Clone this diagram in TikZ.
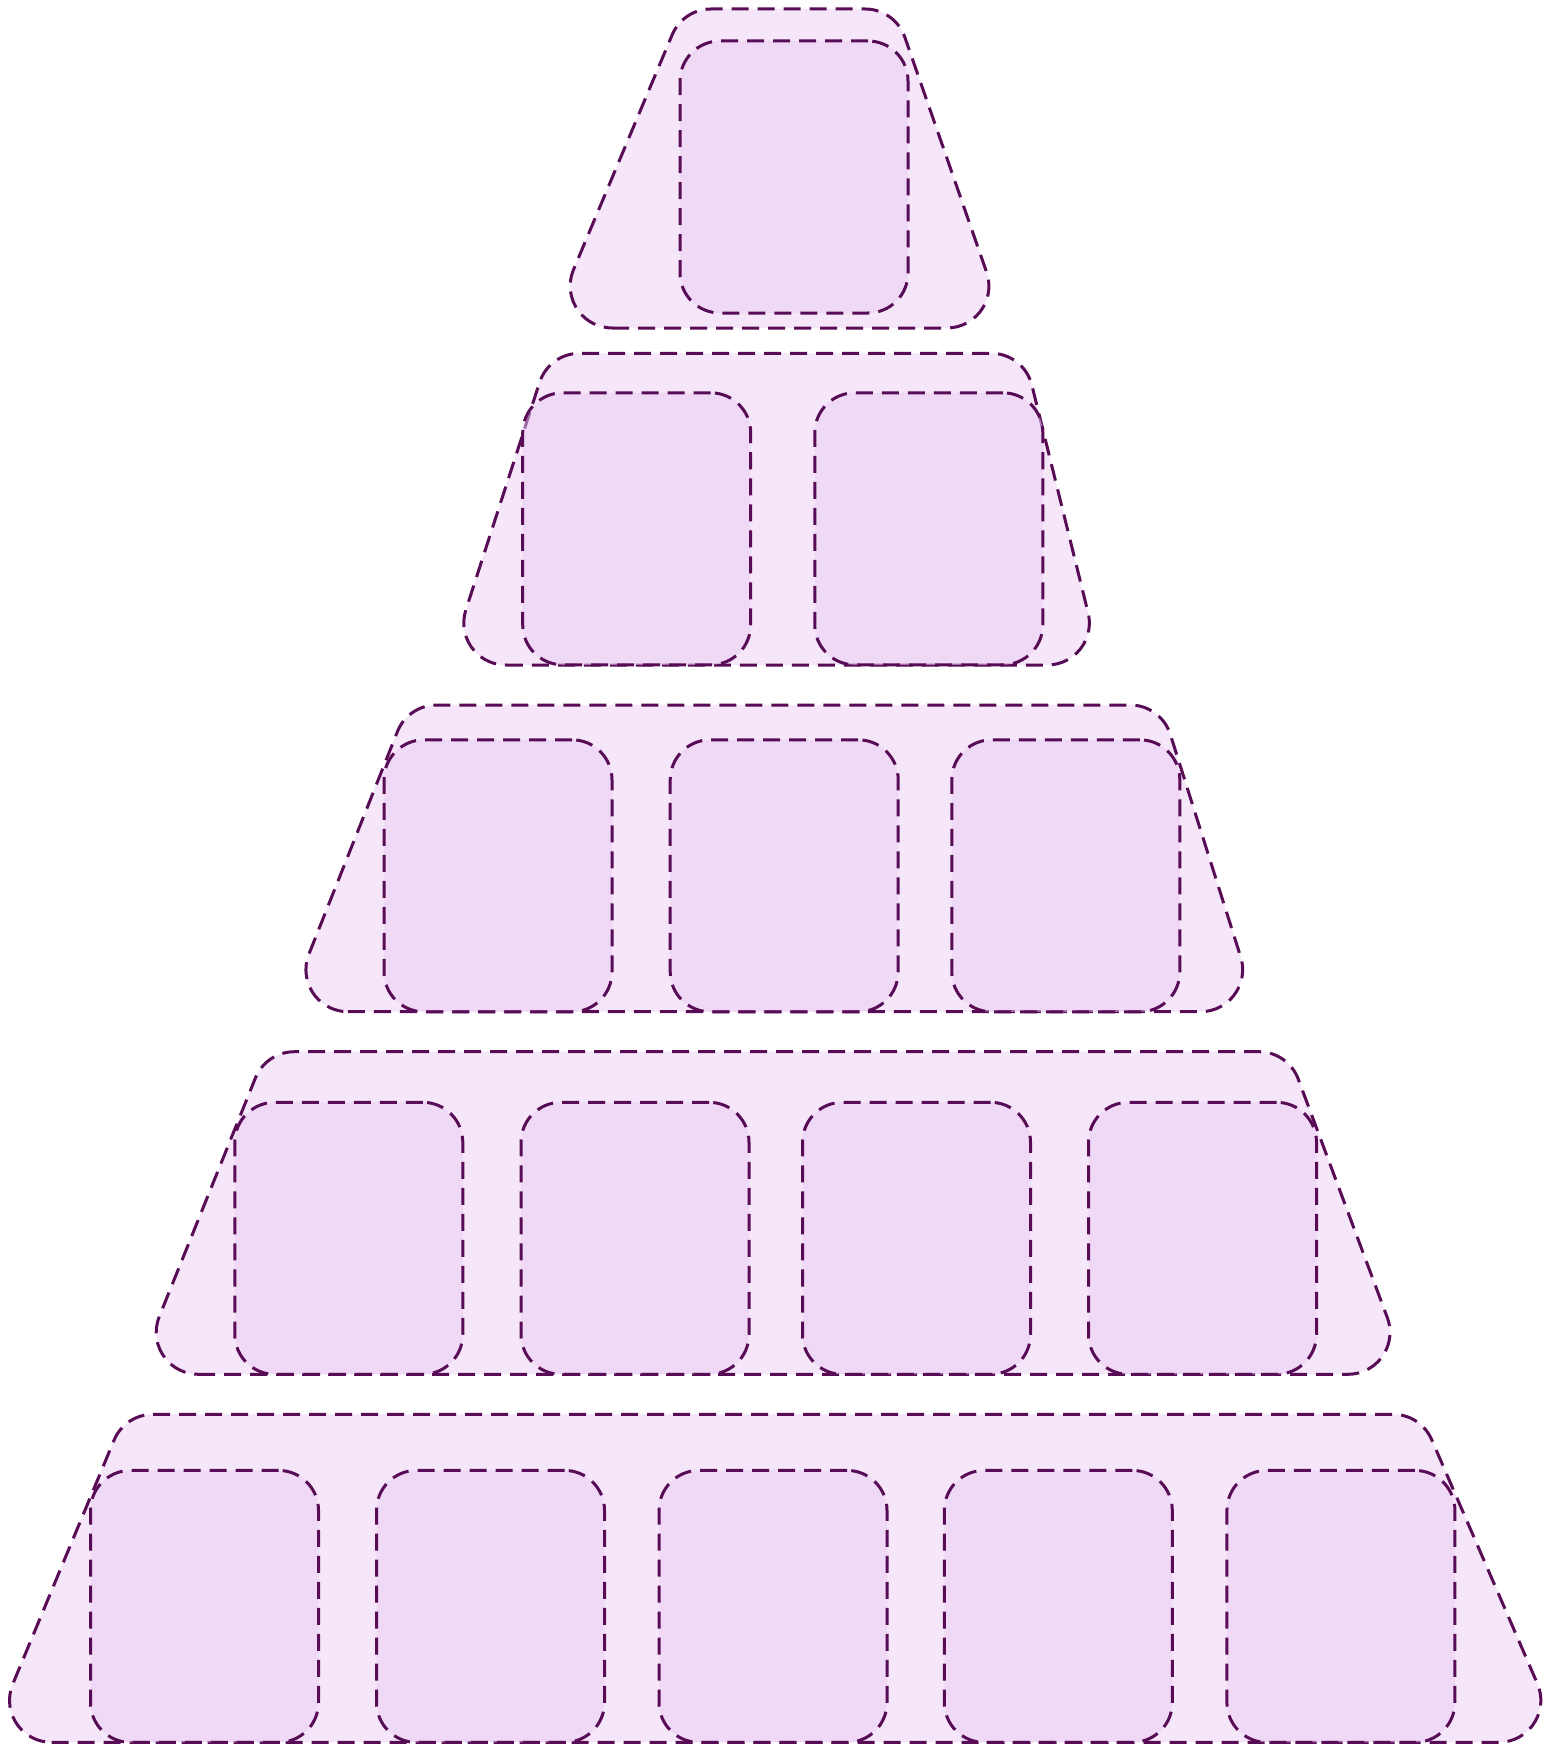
\documentclass[tikz,border=0pt]{standalone}
\usetikzlibrary{calc}
\definecolor{strokec}{RGB}{88,12,86}
\definecolor{outerc}{RGB}{245,230,250}
\definecolor{innerc}{RGB}{235,206,244}
\tikzset{
  outerbox/.style={draw=strokec, line width=3pt, dash pattern=on 17pt off 9pt, fill=outerc},
  innerbox/.style={draw=strokec, line width=3pt, dash pattern=on 17pt off 9pt, fill=innerc,
    fill opacity=0.5, draw opacity=1, rounded corners=40pt, minimum width=228pt,
    minimum height=272pt, inner sep=0pt, outer sep=0pt}
}
% #1 top-left x, #2 top-right x, #3 bottom-left x, #4 bottom-right x, #5 top y, #6 bottom y (pixels, downward), #7 radius
\newcommand\roundtrap[7]{%
  \pgfmathsetmacro\rtT{-(#5)}%
  \pgfmathsetmacro\rtB{-(#6)}%
  \pgfmathsetmacro\rtH{\rtT-\rtB}%
  \pgfmathsetmacro\rtaL{atan2(\rtH,(#1)-(#3))}%
  \pgfmathsetmacro\rtaR{atan2(\rtH,(#2)-(#4))}%
  \pgfmathsetmacro\rtBL{#7/tan(\rtaL/2)}%
  \pgfmathsetmacro\rtTL{#7*tan(\rtaL/2)}%
  \pgfmathsetmacro\rtBR{#7*tan(\rtaR/2)}%
  \pgfmathsetmacro\rtTR{#7/tan(\rtaR/2)}%
  \draw[outerbox] ({#3+\rtBL},\rtB) -- ({#4-\rtBR},\rtB)
    arc[start angle=-90,end angle=\rtaR-90,radius=#7pt]
    -- ({#2-\rtTR*cos(\rtaR)},{\rtT-\rtTR*sin(\rtaR)})
    arc[start angle=\rtaR-90,end angle=90,radius=#7pt]
    -- ({#1+\rtTL},\rtT)
    arc[start angle=90,end angle=\rtaL+90,radius=#7pt]
    -- ({#3+\rtBL*cos(\rtaL)},{\rtB+\rtBL*sin(\rtaL)})
    arc[start angle=\rtaL+90,end angle=270,radius=#7pt]
    -- cycle;
}
\begin{document}
\begin{tikzpicture}[x=1pt,y=1pt]
\useasboundingbox (0,0) rectangle (1546,-1744);
% Row 1
\roundtrap{683}{895}{549}{1006}{9}{328}{42}
\node[innerbox] (r1b1) at (794,-177) {};
% Row 2
\roundtrap{549}{1024}{448}{1101}{353.3}{665}{42}
\node[innerbox] (r2b1) at (636.7,-528.8) {};
\node[innerbox] (r2b2) at (928.8,-528.8) {};
% Row 3
\roundtrap{408}{1161}{286}{1258}{705}{1011.7}{42}
\node[innerbox] (r3b1) at (498,-875.8) {};
\node[innerbox] (r3b2) at (784.2,-875.8) {};
\node[innerbox] (r3b3) at (1065.8,-875.8) {};
% Row 4
\roundtrap{266}{1288}{136}{1408.5}{1051.7}{1374.3}{42}
\node[innerbox] (r4b1) at (348.8,-1238.3) {};
\node[innerbox] (r4b2) at (635,-1238.3) {};
\node[innerbox] (r4b3) at (916.5,-1238.3) {};
\node[innerbox] (r4b4) at (1202.5,-1238.3) {};
% Row 5
\roundtrap{124.8}{1420.7}{-11.4}{1562.8}{1414.3}{1742.3}{42}
\node[innerbox] (r5b1) at (204.5,-1606.4) {};
\node[innerbox] (r5b2) at (490.5,-1606.4) {};
\node[innerbox] (r5b3) at (773,-1606.4) {};
\node[innerbox] (r5b4) at (1058.3,-1606.4) {};
\node[innerbox] (r5b5) at (1340.9,-1606.4) {};
\end{tikzpicture}
\end{document}
